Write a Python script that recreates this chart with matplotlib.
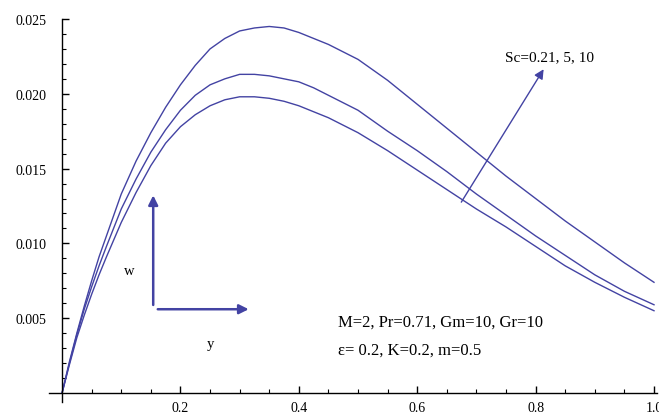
import numpy as np
import matplotlib
matplotlib.use("Agg")
import matplotlib.pyplot as plt

plt.rcParams['font.family'] = ['Liberation Serif', 'DejaVu Serif']

# y positions (horizontal axis)
y_vals = [0.0, 0.0125, 0.025, 0.0375, 0.05, 0.0625, 0.075, 0.1, 0.125, 0.15, 0.175, 0.2,
          0.225, 0.25, 0.275, 0.3, 0.325, 0.35, 0.375, 0.4, 0.425, 0.45, 0.475, 0.5,
          0.55, 0.6, 0.65, 0.7, 0.75, 0.8, 0.85, 0.9, 0.95, 1.0]

# w profiles for Sc = 10, 5, 0.21 (top to bottom)
w_sc10 = [0.0, 0.0021, 0.0040, 0.0058, 0.0075, 0.0091, 0.0105, 0.0133, 0.0155, 0.0174, 0.0191, 0.0206,
          0.0219, 0.0230, 0.0237, 0.0242, 0.0244, 0.0245, 0.0244, 0.0241, 0.0237, 0.0233, 0.0228, 0.0223,
          0.0209, 0.0193, 0.0177, 0.0161, 0.0145, 0.0130, 0.0115, 0.0101, 0.0087, 0.0074]
w_sc5 = [0.0, 0.0020, 0.0039, 0.0056, 0.0071, 0.0085, 0.0098, 0.0123, 0.0143, 0.0161, 0.0176, 0.0189,
         0.0199, 0.0206, 0.0210, 0.0213, 0.0213, 0.0212, 0.0210, 0.0208, 0.0204, 0.0199, 0.0194, 0.0189,
         0.0175, 0.0162, 0.0148, 0.0133, 0.0119, 0.0105, 0.0092, 0.0079, 0.0068, 0.0059]
w_sc021 = [0.0, 0.0019, 0.0037, 0.0052, 0.0066, 0.0079, 0.0091, 0.0114, 0.0134, 0.0152, 0.0167, 0.0178,
           0.0186, 0.0192, 0.0196, 0.0198, 0.0198, 0.0197, 0.0195, 0.0192, 0.0188, 0.0184, 0.0179, 0.0174,
           0.0162, 0.0149, 0.0136, 0.0123, 0.0111, 0.0098, 0.0085, 0.0074, 0.0064, 0.0055]

x_ticks = [0.2, 0.4, 0.6, 0.8, 1.0]
x_tick_labels = ['0.2', '0.4', '0.6', '0.8', '1.0']
y_ticks = [0.005, 0.010, 0.015, 0.020, 0.025]
y_tick_labels = ['0.005', '0.010', '0.015', '0.020', '0.025']

line_color = '#4343a3'

fig = plt.figure(figsize=(6.59, 4.14), dpi=100)
ax = fig.add_axes([0.0744, 0.0266, 0.9225, 0.9251])

for w in [w_sc10, w_sc5, w_sc021]:
    ax.plot(y_vals, w, color=line_color, lw=1.0)

ax.set_xlim(-0.022, 1.005)
ax.set_ylim(-0.0006, 0.0250)

# Mathematica style axes crossing at the origin
ax.spines['top'].set_visible(False)
ax.spines['right'].set_visible(False)
ax.spines['left'].set_position(('data', 0))
ax.spines['bottom'].set_position(('data', 0))
ax.spines['left'].set_linewidth(1.0)
ax.spines['bottom'].set_linewidth(1.0)

ax.set_xticks(x_ticks)
ax.set_xticklabels(x_tick_labels)
ax.set_yticks(y_ticks)
ax.set_yticklabels(y_tick_labels)
ax.set_xticks(np.arange(0.05, 1.0, 0.05), minor=True)
ax.set_yticks(np.arange(0.001, 0.025, 0.001), minor=True)
ax.tick_params(which='major', direction='in', length=5, width=1.0, labelsize=10)
ax.tick_params(which='minor', direction='in', length=3, width=0.8)
ax.tick_params(axis='y', which='major', pad=11)
ax.tick_params(axis='x', which='major', pad=6)

# Sc arrow
ax.annotate('', xy=(0.816, 0.0218), xytext=(0.672, 0.0126),
            arrowprops=dict(arrowstyle='-|>', color=line_color, lw=1.0, mutation_scale=14))
ax.text(0.748, 0.0225, 'Sc=0.21, 5, 10', fontsize=11, va='center', ha='left')

# small w / y axes sketch
ax.annotate('', xy=(0.154, 0.0134), xytext=(0.154, 0.0057),
            arrowprops=dict(arrowstyle='-|>', color=line_color, lw=1.8, mutation_scale=14))
ax.annotate('', xy=(0.320, 0.0056), xytext=(0.157, 0.0056),
            arrowprops=dict(arrowstyle='-|>', color=line_color, lw=1.8, mutation_scale=14))
ax.text(0.113, 0.0082, 'w', fontsize=10.5, ha='center', va='center')
ax.text(0.250, 0.0033, 'y', fontsize=10.5, ha='center', va='center')

# parameters
ax.text(0.466, 0.0048, 'M=2, Pr=0.71, Gm=10, Gr=10', fontsize=12, va='center', ha='left')
ax.text(0.466, 0.0029, 'ε= 0.2, K=0.2, m=0.5', fontsize=12, va='center', ha='left')

fig.savefig('out.png', dpi=100)
